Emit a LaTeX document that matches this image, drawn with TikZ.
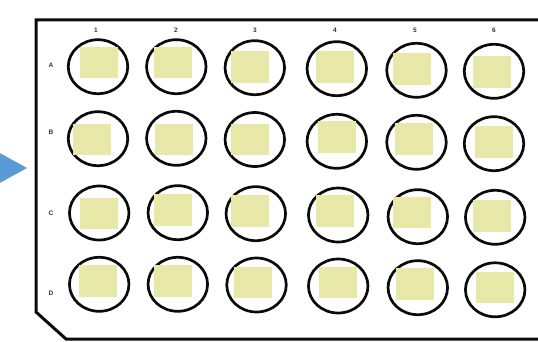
\documentclass[tikz,border=0pt]{standalone}
\usepackage{fontspec}
\setmainfont{Liberation Sans}
\usepackage{tikz}
\usetikzlibrary{shapes.geometric}
\definecolor{ink}{RGB}{10,10,10}
\definecolor{lbltext}{RGB}{40,50,80}
\definecolor{plugfill}{RGB}{232,233,169}
\definecolor{arrowfill}{RGB}{91,155,213}
\tikzset{
  plate/.style={draw=ink, line width=3pt, line join=miter},
  well/.style={
    draw=ink, line width=2.7pt, ellipse,
    minimum width=59.5pt, minimum height=54pt, inner sep=0pt,
  },
  plug/.style={
    fill=plugfill, minimum width=38pt, minimum height=31.5pt, inner sep=0pt,
  },
  collbl/.style={font=\fontsize{6.5}{8}\selectfont\bfseries, text=lbltext, inner sep=0pt},
  rowlbl/.style={font=\fontsize{6.5}{8}\selectfont\bfseries, text=lbltext, inner sep=0pt},
}

\begin{document}
\begin{tikzpicture}[x=1pt,y=-1pt]
  \useasboundingbox (0,0) rectangle (538,342);

  % Pointer arrow
  \fill[arrowfill] (-2,152) -- (27,168) -- (-2,184) -- cycle;

  % Plate outline
  \coordinate (tr) at (545,20);
  \coordinate (tl) at (36,20);
  \coordinate (cut1) at (36,312);
  \coordinate (cut2) at (66,339);
  \coordinate (br) at (545,339);
  \draw[plate] (tr) -- (tl) -- (cut1) -- (cut2) -- (br);

  % Wells
  \foreach \id/\cx/\cy in {
      A1/98/66.7, A2/176.3/66.7, A3/254.8/67.7, A4/336.8/68.7, A5/416.5/70.3, A6/494/71.3,
      B1/98/138.7, B2/176.3/138.3, B3/254.8/139.5, B4/336.8/141.3, B5/416.5/142.3, B6/494/143.7,
      C1/99.2/213, C2/177.8/212.7, C3/255.8/213.7, C4/338.2/215, C5/417.8/216.7, C6/495.2/217.3,
      D1/99.2/284.3, D2/177.8/284.3, D3/256.5/285, D4/338.2/286, D5/417.8/287.7, D6/495.2/289.8}
    \node[well] (w\id) at (\cx,\cy) {};

  % Samples in wells
  \foreach \id/\sx/\sy in {
      A1/98.8/62.5, A2/173.2/62.5, A3/250/67, A4/335/67.2, A5/411.8/68.8, A6/491.8/72.2,
      B1/91.7/139.5, B2/174.3/139.5, B3/250/139.5, B4/336.7/137.2, B5/413.8/138.8, B6/493.8/142.2,
      C1/98.8/213.3, C2/173.2/209.8, C3/250/210.8, C4/335/210.8, C5/411.8/212.5, C6/491.8/216.2,
      D1/98.3/280.8, D2/173/280.8, D3/253.3/282.5, D4/338.3/282.5, D5/415.2/284.2, D6/495.2/287.5}
    \node[plug] (s\id) at (\sx,\sy) {};

  % Column and row labels
  \foreach \n/\x in {1/96, 2/176, 3/255, 4/335, 5/415, 6/494}
    \node[collbl] (col\n) at (\x,30) {\n};
  \foreach \r/\y in {A/65, B/132, C/213, D/293}
    \node[rowlbl] (row\r) at (51,\y) {\r};
\end{tikzpicture}
\end{document}
